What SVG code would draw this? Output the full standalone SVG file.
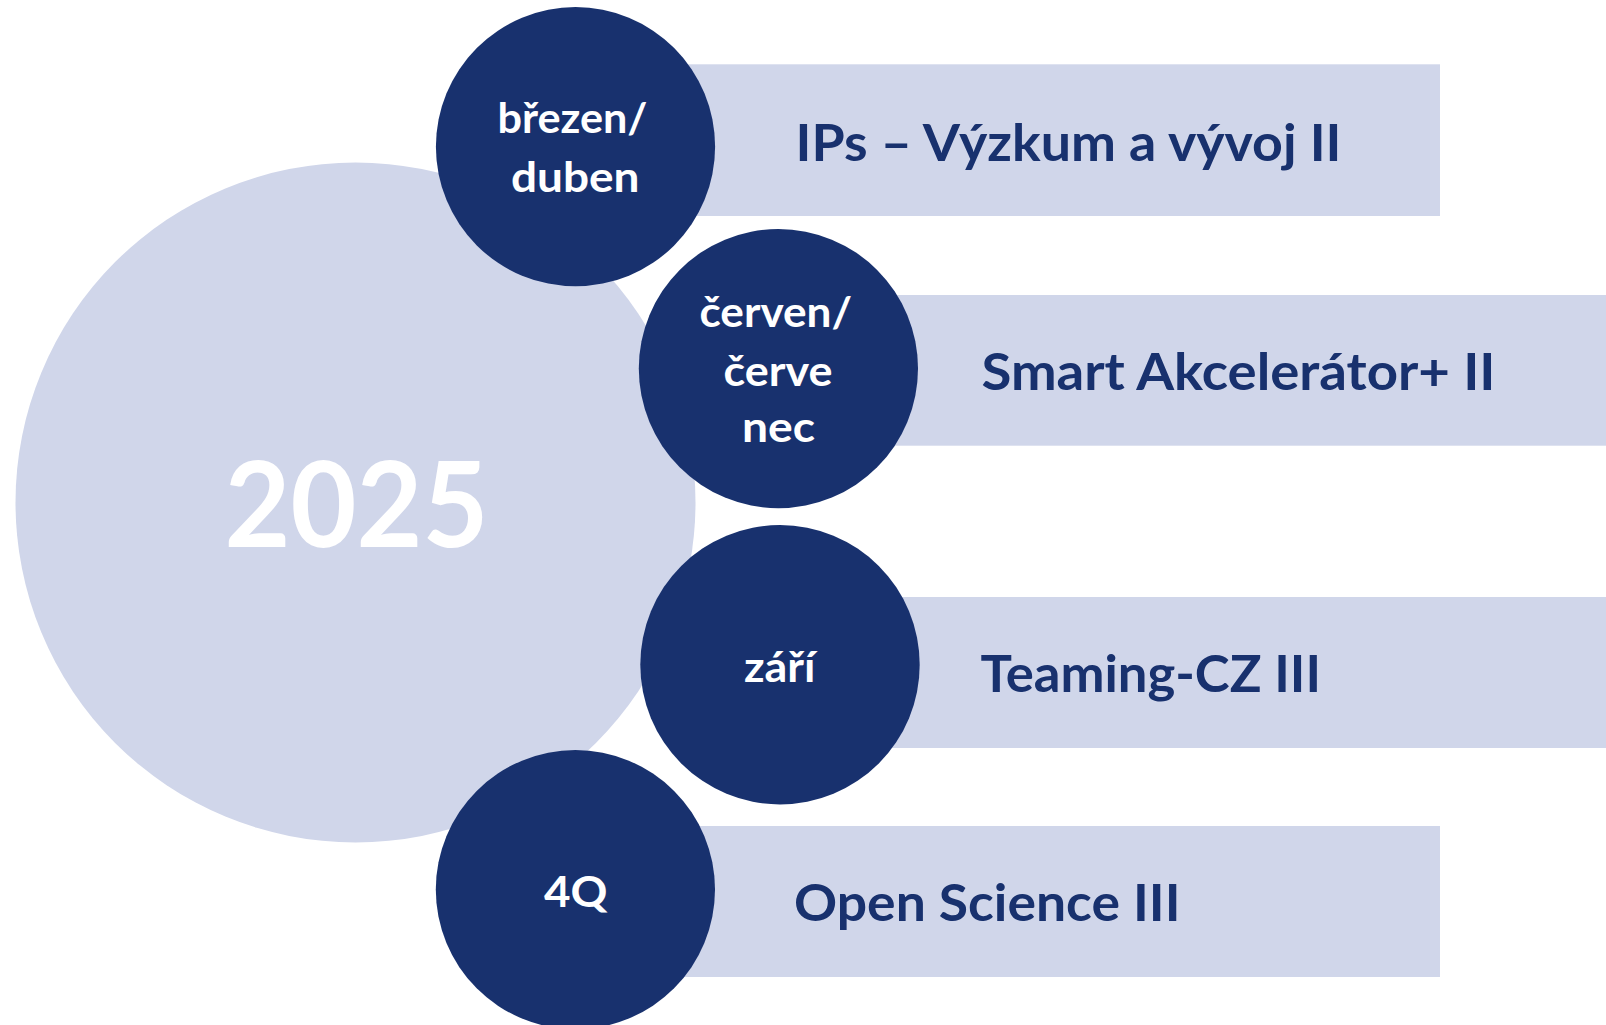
<svg xmlns="http://www.w3.org/2000/svg" width="1606" height="1025" viewBox="0 0 1606 1025">
  <style>
    .light { fill: #D0D6EA; }
    .dark { fill: #18316E; }
    .lbl { font-family: Lato, "Open Sans", "Liberation Sans", sans-serif; font-weight: 700; fill: #18316E; font-size: 51px; }
    .cl { font-family: Lato, "Open Sans", "Liberation Sans", sans-serif; font-weight: 700; fill: #FFFFFF; font-size: 42px; }
    .year { font-family: Lato, "Open Sans", "Liberation Sans", sans-serif; font-weight: 700; fill: #FFFFFF; font-size: 118px; }
  </style>
  <rect width="1606" height="1025" fill="#FFFFFF"/>
  <g id="year-2025">
    <circle class="light" cx="355.5" cy="502.5" r="340"/>
    <text class="year" x="224.5" y="547.3" textLength="264" lengthAdjust="spacingAndGlyphs">2025</text>
  </g>
  <g id="connectors"/>
  <g id="m1">
    <rect class="light" x="575" y="64.3" width="865" height="151.7"/>
    <circle class="dark" cx="575.5" cy="146.7" r="139.6"/>
    <text class="cl" x="497.5" y="132.7" textLength="150" lengthAdjust="spacingAndGlyphs">březen/</text>
    <text class="cl" x="511" y="191.7" textLength="128.5" lengthAdjust="spacingAndGlyphs">duben</text>
    <text class="lbl" x="795.5" y="161" textLength="546" lengthAdjust="spacingAndGlyphs">IPs – Výzkum a vývoj II</text>
  </g>
  <g id="m2">
    <rect class="light" x="778" y="295" width="828" height="150.7"/>
    <circle class="dark" cx="778.4" cy="368.6" r="139.6"/>
    <text class="cl" x="699.5" y="326.7" textLength="152.5" lengthAdjust="spacingAndGlyphs">červen/</text>
    <text class="cl" x="723.5" y="385.7" textLength="109" lengthAdjust="spacingAndGlyphs">červe</text>
    <text class="cl" x="742" y="442.3" textLength="73" lengthAdjust="spacingAndGlyphs">nec</text>
    <text class="lbl" x="981.5" y="390" textLength="514" lengthAdjust="spacingAndGlyphs">Smart Akcelerátor+ II</text>
  </g>
  <g id="m3">
    <rect class="light" x="780" y="597" width="826" height="151"/>
    <circle class="dark" cx="780" cy="664.7" r="139.7"/>
    <text class="cl" x="744" y="681.7" textLength="71.5" lengthAdjust="spacingAndGlyphs">září</text>
    <text class="lbl" x="980.5" y="691.5" textLength="340.5" lengthAdjust="spacingAndGlyphs">Teaming-CZ III</text>
  </g>
  <g id="m4">
    <rect class="light" x="575" y="826" width="865" height="151"/>
    <circle class="dark" cx="575.4" cy="889.6" r="139.6"/>
    <text class="cl" x="544" y="906.7" textLength="63.5" lengthAdjust="spacingAndGlyphs">4Q</text>
    <text class="lbl" x="794" y="921" textLength="386.5" lengthAdjust="spacingAndGlyphs">Open Science III</text>
  </g>
</svg>
